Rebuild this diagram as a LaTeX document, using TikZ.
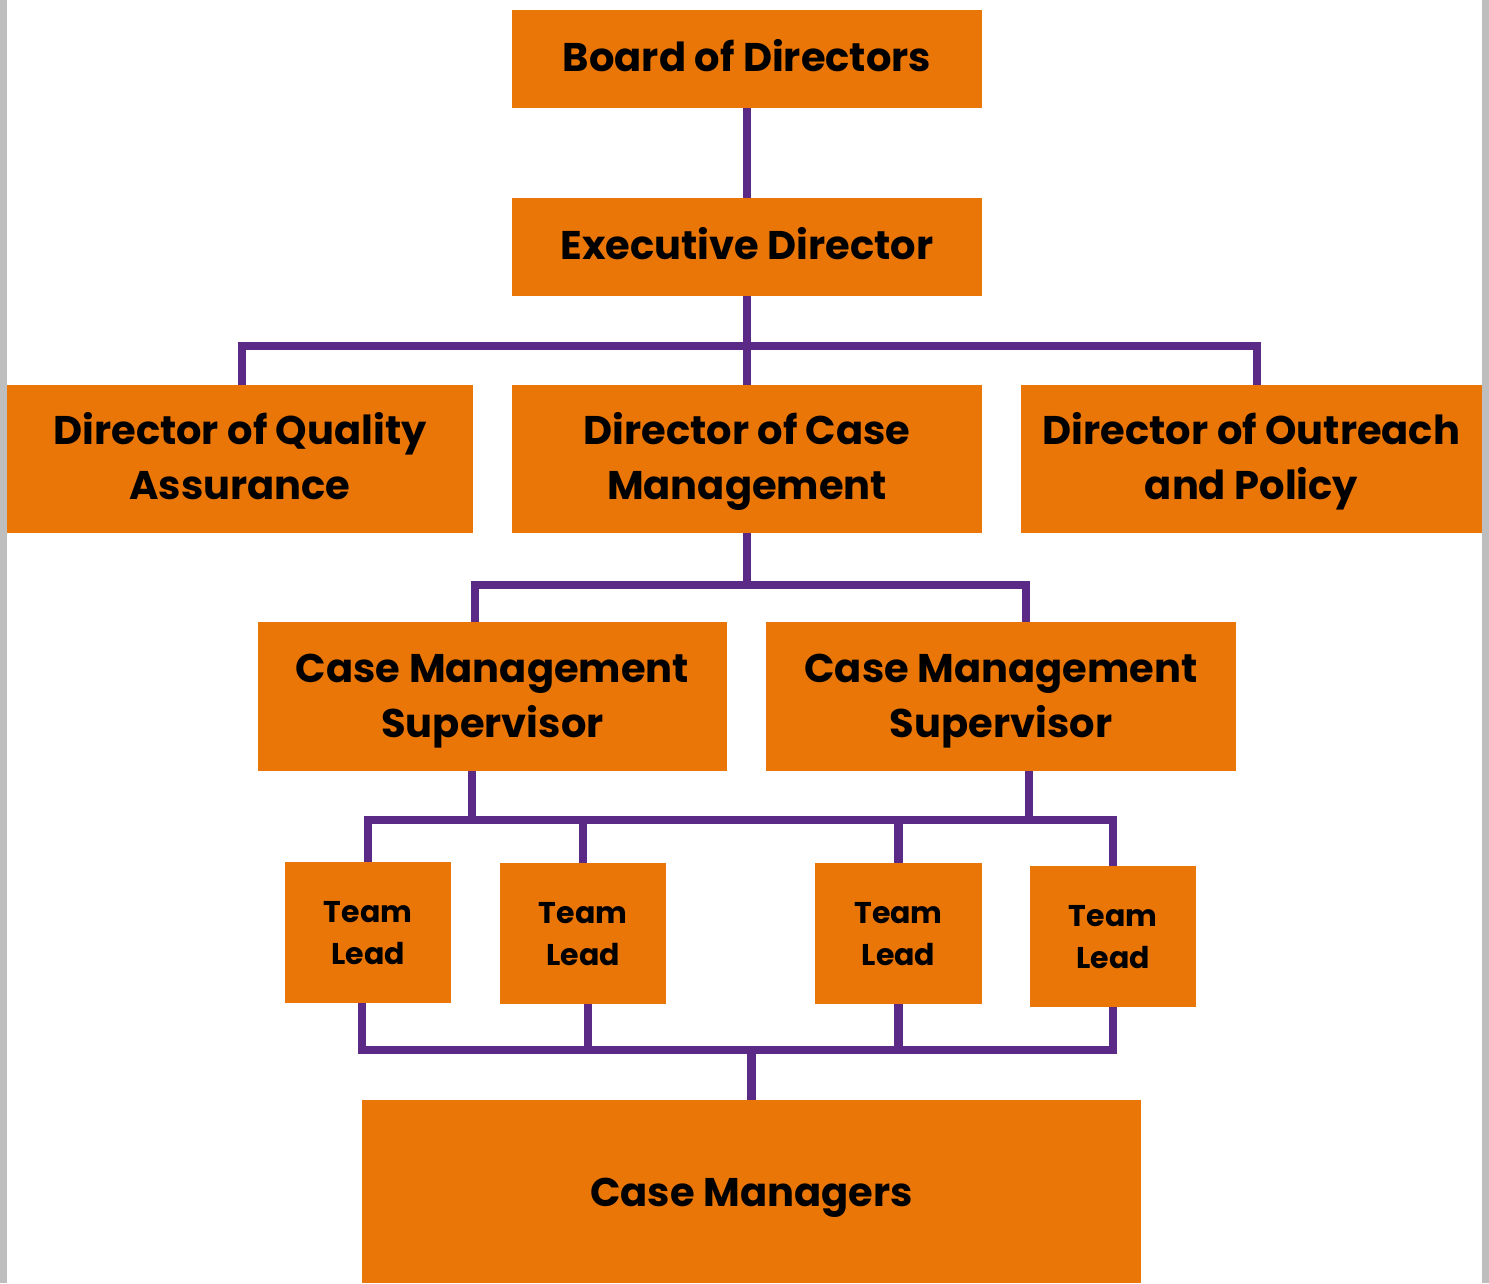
\documentclass[tikz,border=0pt]{standalone}
\usepackage{fontspec}
\setmainfont{Poppins}
\definecolor{boxorange}{RGB}{234,118,7}
\definecolor{linepurple}{RGB}{91,42,134}
\definecolor{edgegray}{RGB}{190,190,190}
\begin{document}
\begin{tikzpicture}[x=1pt,y=-1pt,
  box/.style={fill=boxorange,draw=none,inner sep=0pt,align=center,
    font=\fontsize{40}{55}\selectfont\bfseries,text depth=0pt},
  onebox/.style={box,text height=25pt},
  twobox/.style={box,text height=81pt},
  smallbox/.style={box,font=\fontsize{30}{42}\selectfont\bfseries,text height=63pt},
  conn/.style={draw=linepurple,line width=8.5pt}]
\useasboundingbox (0,0) rectangle (1489,1283);
\fill[white] (0,0) rectangle (1489,1283);
\fill[edgegray] (0,0) rectangle (7,1283);
\fill[edgegray] (1482,0) rectangle (1489,1283);

\node[onebox,minimum width=470,minimum height=98] (board) at (747,59) {Board of Directors};
\node[onebox,minimum width=470,minimum height=98] (exec) at (747,247) {Executive Director};
\node[twobox,minimum width=466,minimum height=148] (dqa) at (240,459) {Director of Quality\\Assurance};
\node[twobox,minimum width=470,minimum height=148] (dcm) at (747,459) {Director of Case\\Management};
\node[twobox,minimum width=461,minimum height=148] (dop) at (1251.5,459) {Director of Outreach\\and Policy};
\node[twobox,minimum width=469,minimum height=149] (cms1) at (492.5,696.5) {Case Management\\Supervisor};
\node[twobox,minimum width=470,minimum height=149] (cms2) at (1001,696.5) {Case Management\\Supervisor};
\node[smallbox,minimum width=166,minimum height=141] (tl1) at (368,932.5) {Team\\Lead};
\node[smallbox,minimum width=166,minimum height=141] (tl2) at (583,933.5) {Team\\Lead};
\node[smallbox,minimum width=167,minimum height=141] (tl3) at (898.5,933.5) {Team\\Lead};
\node[smallbox,minimum width=166,minimum height=141] (tl4) at (1113,936.5) {Team\\Lead};
\node[box,text height=30pt,minimum width=779,minimum height=183] (cm) at (751.5,1191.5) {Case Managers};

\draw[conn] (board.south) -- (exec.north);
\draw[conn] (exec.south) -- (dcm.north);
\draw[conn] ([xshift=2]dqa.north) -- ++(0,-39) -| ([xshift=5.5]dop.north);

\draw[conn] (dcm.south) -- ++(0,52);
\draw[conn] ([xshift=-17.5]cms1.north) -- ++(0,-37) -| ([xshift=25]cms2.north);

\draw[conn] ([xshift=-20.5]cms1.south) -- ++(0,49);
\draw[conn] ([xshift=28]cms2.south) -- ++(0,49);
\draw[conn] (tl1.north) -- ++(0,-42) -| (tl4.north);
\draw[conn] (tl2.north) -- ++(0,-43);
\draw[conn] (tl3.north) -- ++(0,-43);

\draw[conn] ([xshift=-6]tl1.south) -- ++(0,47) -| (tl4.south);
\draw[conn] ([xshift=5]tl2.south) -- ++(0,46);
\draw[conn] (tl3.south) -- ++(0,46);
\draw[conn] (cm.north) -- ++(0,-50);
\end{tikzpicture}
\end{document}
